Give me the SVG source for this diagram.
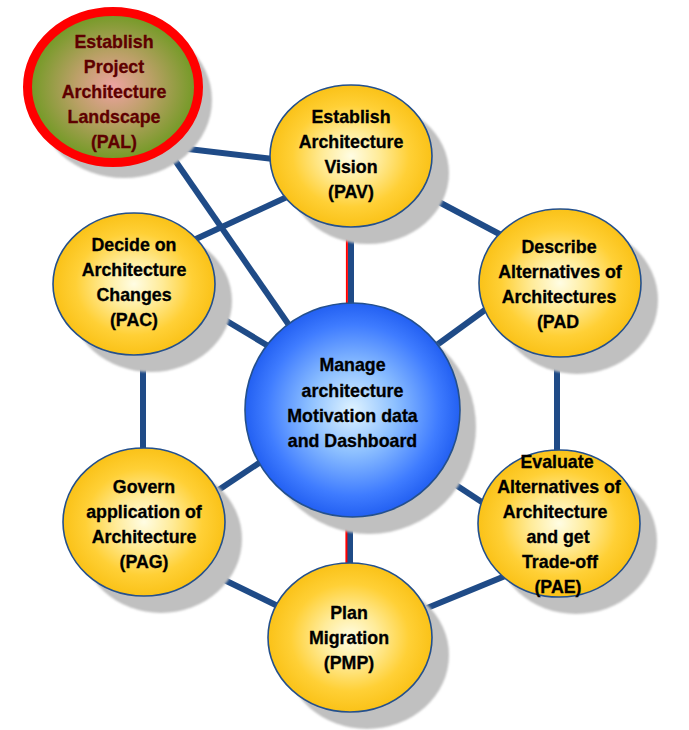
<svg xmlns="http://www.w3.org/2000/svg" width="689" height="730" viewBox="0 0 689 730">
  <style>
    .link { stroke: #1F4B87; stroke-width: 6; fill: none; }
    .accent { stroke: #FF0000; stroke-width: 2; fill: none; }
    .shadow { fill: #C0C0C0; filter: url(#soft); }
    .node { stroke: #24508C; stroke-width: 1.6; }
    .yellow { fill: url(#gYellow); }
    .blue { fill: url(#gBlue); }
    .landscape { fill: url(#gLandscape); stroke: #FF0000; stroke-width: 9; }
    text { font-family: "Liberation Sans", Arial, sans-serif; font-weight: bold; font-size: 17.8px; fill: #000000; stroke: #000000; stroke-width: 0.3; text-anchor: middle; }
    text.dark { fill: #5E0000; stroke: #5E0000; }
  </style>
  <defs>
    <radialGradient id="gYellow" cx="50%" cy="50%" r="50%">
      <stop offset="0" stop-color="#FFFDE4"/>
      <stop offset="0.35" stop-color="#FFEB98"/>
      <stop offset="0.72" stop-color="#FFD036"/>
      <stop offset="1" stop-color="#FAC218"/>
    </radialGradient>
    <radialGradient id="gBlue" cx="50%" cy="50%" r="50%">
      <stop offset="0" stop-color="#DFF3FF"/>
      <stop offset="0.4" stop-color="#8DC0FF"/>
      <stop offset="0.8" stop-color="#3F7CFF"/>
      <stop offset="1" stop-color="#2360F2"/>
    </radialGradient>
    <radialGradient id="gLandscape" cx="50%" cy="50%" r="50%">
      <stop offset="0" stop-color="#EEA2A2"/>
      <stop offset="0.45" stop-color="#BBA067"/>
      <stop offset="1" stop-color="#6F9A22"/>
    </radialGradient>
    <filter id="soft" x="-10%" y="-10%" width="120%" height="120%">
      <feGaussianBlur stdDeviation="1.2"/>
    </filter>
  </defs>

  <rect width="689" height="730" fill="#FFFFFF"/>

  <!-- connectors -->
  <g id="connectors">
    <line class="link" x1="163" y1="146" x2="282" y2="160"/>
    <line class="link" x1="163" y1="143" x2="300" y2="341"/>
    <line class="link" x1="300" y1="191" x2="185" y2="244"/>
    <line class="link" x1="351" y1="215" x2="351" y2="312"/>
    <line class="accent" x1="346.9" y1="215" x2="346.9" y2="312"/>
    <line class="link" x1="420" y1="192" x2="505" y2="237"/>
    <line class="link" x1="500" y1="299" x2="430" y2="350"/>
    <line class="link" x1="557" y1="350" x2="557" y2="462"/>
    <line class="link" x1="430" y1="468" x2="500" y2="514"/>
    <line class="link" x1="415" y1="613" x2="515" y2="572"/>
    <line class="link" x1="350" y1="505" x2="350" y2="575"/>
    <line class="accent" x1="346.4" y1="505" x2="346.4" y2="575"/>
    <line class="link" x1="210" y1="573" x2="290" y2="612"/>
    <line class="link" x1="205" y1="499" x2="280" y2="449"/>
    <line class="link" x1="143" y1="340" x2="143" y2="460"/>
    <line class="link" x1="205" y1="308" x2="285" y2="356"/>
  </g>

  <!-- Establish Project Architecture Landscape -->
  <g id="PAL">
    <ellipse class="shadow" cx="124" cy="100" rx="88" ry="78"/>
    <ellipse class="landscape" cx="113" cy="87" rx="85.5" ry="75.5"/>
    <text class="dark" x="114" y="48">Establish</text>
    <text class="dark" x="114" y="73">Project</text>
    <text class="dark" x="114" y="98">Architecture</text>
    <text class="dark" x="114" y="123">Landscape</text>
    <text class="dark" x="114" y="148">(PAL)</text>
  </g>

  <!-- Establish Architecture Vision -->
  <g id="PAV">
    <ellipse class="shadow" cx="368" cy="173" rx="81" ry="71"/>
    <ellipse class="node yellow" cx="351" cy="156" rx="81" ry="71"/>
    <text x="351" y="123">Establish</text>
    <text x="351" y="148">Architecture</text>
    <text x="351" y="173">Vision</text>
    <text x="351" y="198">(PAV)</text>
  </g>

  <!-- Decide on Architecture Changes -->
  <g id="PAC">
    <ellipse class="shadow" cx="151" cy="301" rx="81" ry="71"/>
    <ellipse class="node yellow" cx="134" cy="284" rx="81" ry="71"/>
    <text x="134" y="251">Decide on</text>
    <text x="134" y="276">Architecture</text>
    <text x="134" y="301">Changes</text>
    <text x="134" y="326">(PAC)</text>
  </g>

  <!-- Describe Alternatives of Architectures -->
  <g id="PAD">
    <ellipse class="shadow" cx="577" cy="300" rx="81" ry="74"/>
    <ellipse class="node yellow" cx="560" cy="283" rx="81" ry="74"/>
    <text x="559" y="253">Describe</text>
    <text x="560" y="278">Alternatives of</text>
    <text x="559" y="303">Architectures</text>
    <text x="558" y="328">(PAD</text>
  </g>

  <!-- Manage architecture Motivation data and Dashboard -->
  <g id="PAM">
    <ellipse class="shadow" cx="369" cy="427" rx="107" ry="107"/>
    <ellipse class="node blue" cx="352.5" cy="410" rx="107.5" ry="107"/>
    <text x="352.5" y="371">Manage</text>
    <text x="352.5" y="396.5">architecture</text>
    <text x="352.5" y="421.5">Motivation data</text>
    <text x="352.5" y="446.5">and Dashboard</text>
  </g>

  <!-- Govern application of Architecture -->
  <g id="PAG">
    <ellipse class="shadow" cx="161" cy="539" rx="81" ry="74"/>
    <ellipse class="node yellow" cx="144" cy="522" rx="81" ry="74"/>
    <text x="144" y="493">Govern</text>
    <text x="144" y="518">application of</text>
    <text x="144" y="543">Architecture</text>
    <text x="144" y="568">(PAG)</text>
  </g>

  <!-- Evaluate Alternatives of Architecture and get Trade-off -->
  <g id="PAE">
    <ellipse class="shadow" cx="576" cy="541" rx="81" ry="73"/>
    <ellipse class="node yellow" cx="559" cy="523.5" rx="81" ry="73.5"/>
    <text x="557" y="468">Evaluate</text>
    <text x="559" y="493">Alternatives of</text>
    <text x="555" y="518">Architecture</text>
    <text x="558" y="543">and get</text>
    <text x="560" y="568">Trade-off</text>
    <text x="558" y="593">(PAE)</text>
  </g>

  <!-- Plan Migration -->
  <g id="PMP">
    <ellipse class="shadow" cx="367" cy="655" rx="82" ry="74"/>
    <ellipse class="node yellow" cx="350" cy="637.5" rx="82" ry="74.5"/>
    <text x="349" y="619">Plan</text>
    <text x="349" y="644">Migration</text>
    <text x="349" y="669">(PMP)</text>
  </g>
</svg>
